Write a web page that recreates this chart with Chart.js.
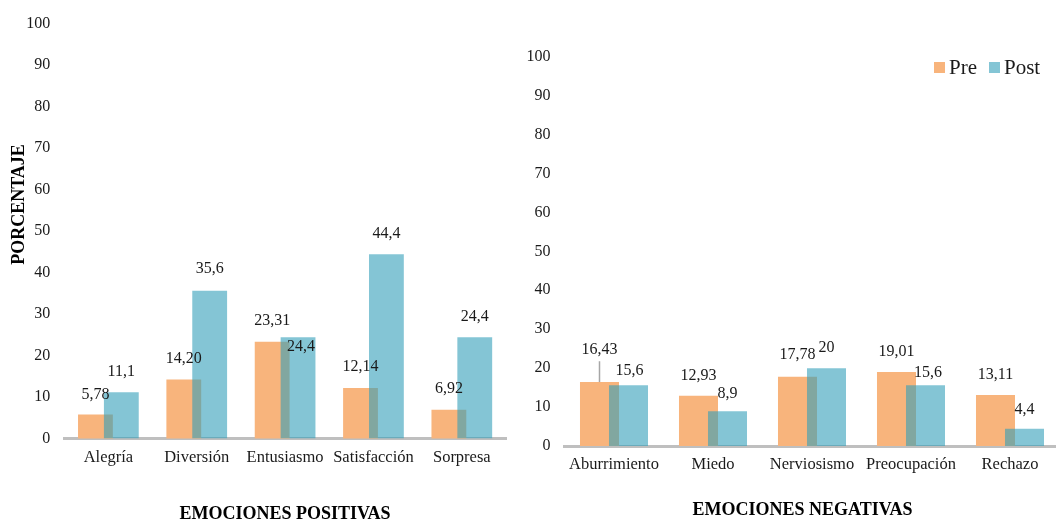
<!DOCTYPE html>
<html lang="es">
<head>
<meta charset="utf-8">
<title>Emociones pre y post</title>
<script src="https://cdn.jsdelivr.net/npm/chart.js@4.4.1/dist/chart.umd.min.js"></script>
<style>
  html, body { margin: 0; padding: 0; background: #fff; overflow: hidden; }
  body { position: relative; width: 1056px; height: 521px; }
  .panel { position: absolute; top: 0; height: 540px; }
  #panel-pos { left: 0; width: 520px; }
  #panel-neg { left: 520px; width: 545px; }
  #legend {
    position: absolute; left: 934px; top: 57px; display: flex;
    font: 21px/21px 'Liberation Serif', 'Times New Roman', serif; color: #1a1a1a;
  }
  .legend-item { display: flex; align-items: center; margin-right: 12px; }
  .legend-box { width: 11px; height: 11px; margin-right: 4px; }
</style>
</head>
<body>
<div class="panel" id="panel-pos"><canvas id="chart-pos"></canvas></div>
<div class="panel" id="panel-neg"><canvas id="chart-neg"></canvas></div>
<div id="legend"></div>

<script>
// ---------------------------------------------------------------------------
// Data
// ---------------------------------------------------------------------------
const positiveLabels = ['Alegría', 'Diversión', 'Entusiasmo', 'Satisfacción', 'Sorpresa'];
const positivePre    = [5.78, 14.20, 23.31, 12.14, 6.92];
const positivePost   = [11.1, 35.6, 24.4, 44.4, 24.4];

const negativeLabels = ['Aburrimiento', 'Miedo', 'Nerviosismo', 'Preocupación', 'Rechazo'];
const negativePre    = [16.43, 12.93, 17.78, 19.01, 13.11];
const negativePost   = [15.6, 8.9, 20, 15.6, 4.4];

const seriesNames = ['Pre', 'Post'];
const yTickValues = [0, 10, 20, 30, 40, 50, 60, 70, 80, 90, 100];

// Value label nudges [dx, dy] where the default spot would collide
const positivePreNudge  = [[0, 1], [0, 0], [0, 0], [0, -1], [0, 0]];
const positivePostNudge = [[0, 0], [0, -1.5], [3, 30], [0, 0], [0, 0]];
const negativePreNudge  = [[0, -12], [0, 1], [0, -1], [0, 0.5], [0, 0]];
const negativePostNudge = [[1, 6.5], [0, 3], [0, 0.5], [2.5, 8.5], [0, 1.5]];

// ---------------------------------------------------------------------------
// Styling
// ---------------------------------------------------------------------------
const SERIF = "'Liberation Serif', 'Times New Roman', serif";
const PRE_COLOR  = 'rgb(248, 180, 124)';
const POST_COLOR = 'rgba(50, 158, 185, 0.6)';
const AXIS_COLOR = '#bfbfbf';
const TEXT_COLOR = '#1a1a1a';
const LABEL_GAP  = 20.5;   // distance from bar top to label centre

function formatValue(v, decimals) {
  const s = decimals == null ? String(v) : v.toFixed(decimals);
  return s.replace('.', ',');
}

// Draw "Pre" first so the translucent "Post" bars sit on top of it
const postOnTop = {
  id: 'postOnTop',
  beforeDatasetsDraw(chart) {
    chart.getDatasetMeta(0).controller.draw();
  },
  beforeDatasetDraw(chart, args) {
    if (args.index === 0) return false;
  },
};

// Value labels above every bar, with a leader line when pushed far away
const valueLabels = {
  id: 'valueLabels',
  afterDatasetsDraw(chart, args, opts) {
    const { ctx } = chart;
    ctx.save();
    ctx.font = `16px ${SERIF}`;
    ctx.fillStyle = TEXT_COLOR;
    ctx.textAlign = 'center';
    ctx.textBaseline = 'middle';
    chart.data.datasets.forEach((ds, di) => {
      const meta = chart.getDatasetMeta(di);
      const nudges = opts.nudges[di];
      meta.data.forEach((bar, i) => {
        const [dx, dy] = nudges[i];
        const x = bar.x + dx;
        const y = bar.y - LABEL_GAP + dy;
        ctx.fillText(formatValue(ds.data[i], ds.decimals), x, y);
        if (dy < -8) {
          ctx.strokeStyle = '#a6a6a6';
          ctx.lineWidth = 1.5;
          ctx.beginPath();
          ctx.moveTo(bar.x, y + 11.7);
          ctx.lineTo(bar.x, bar.y);
          ctx.stroke();
        }
      });
    });
    ctx.restore();
  },
};

// Bold axis titles placed by hand
const axisTitles = {
  id: 'axisTitles',
  afterDraw(chart, args, opts) {
    const { ctx } = chart;
    ctx.save();
    ctx.font = `bold 18px ${SERIF}`;
    ctx.fillStyle = '#000';
    ctx.textAlign = 'center';
    ctx.textBaseline = 'middle';
    if (opts.x) ctx.fillText(opts.x.text, opts.x.cx, opts.x.cy);
    if (opts.y) {
      ctx.translate(opts.y.cx, opts.y.cy);
      ctx.rotate(-Math.PI / 2);
      ctx.fillText(opts.y.text, 0, 0);
    }
    ctx.restore();
  },
};

function makeChart(canvasId, cfg) {
  const ctx = document.getElementById(canvasId).getContext('2d');
  return new Chart(ctx, {
    type: 'bar',
    data: {
      labels: cfg.labels,
      datasets: [
        { label: seriesNames[0], data: cfg.pre, decimals: 2, backgroundColor: PRE_COLOR },
        { label: seriesNames[1], data: cfg.post, decimals: null, backgroundColor: POST_COLOR },
      ],
    },
    options: {
      responsive: true,
      maintainAspectRatio: false,
      animation: false,
      events: [],
      categoryPercentage: 0.586,
      barPercentage: 1.345,
      layout: { padding: { top: cfg.padTop, right: cfg.padRight, left: 0, bottom: 0 } },
      plugins: {
        legend: { display: false },
        tooltip: { enabled: false },
        valueLabels: { nudges: [cfg.preNudge, cfg.postNudge] },
        axisTitles: cfg.titles,
      },
      scales: {
        x: {
          grid: { display: false, drawTicks: false },
          border: { color: AXIS_COLOR, width: 3 },
          ticks: { color: TEXT_COLOR, padding: 9, font: { family: SERIF, size: 16.5 } },
          afterFit: s => { s.height = cfg.xAxisHeight; },
        },
        y: {
          min: 0,
          max: 100,
          grid: { display: false, drawTicks: false },
          border: { display: false },
          ticks: { color: TEXT_COLOR, padding: 14, font: { family: SERIF, size: 16 } },
          afterBuildTicks: s => { s.ticks = yTickValues.map(v => ({ value: v })); },
          afterFit: s => { s.width = cfg.yAxisWidth; },
        },
      },
    },
    plugins: [postOnTop, valueLabels, axisTitles],
  });
}

makeChart('chart-pos', {
  labels: positiveLabels,
  pre: positivePre,
  post: positivePost,
  preNudge: positivePreNudge,
  postNudge: positivePostNudge,
  padTop: 22,
  padRight: 14,
  yAxisWidth: 64.2,
  xAxisHeight: 101.6,
  titles: {
    x: { text: 'EMOCIONES POSITIVAS', cx: 285, cy: 514.3 },
    y: { text: 'PORCENTAJE', cx: 19.3, cy: 204.5 },
  },
});

makeChart('chart-neg', {
  labels: negativeLabels,
  pre: negativePre,
  post: negativePost,
  preNudge: negativePreNudge,
  postNudge: negativePostNudge,
  padTop: 56.7,
  padRight: 5.5,
  yAxisWidth: 44.5,
  xAxisHeight: 94,
  titles: {
    x: { text: 'EMOCIONES NEGATIVAS', cx: 282.5, cy: 510.3 },
  },
});

// Legend shared by both panels
document.getElementById('legend').innerHTML = seriesNames
  .map((name, i) => `
    <span class="legend-item">
      <span class="legend-box" style="background:${i === 0 ? PRE_COLOR : POST_COLOR}"></span>${name}
    </span>`)
  .join('');
</script>
</body>
</html>
